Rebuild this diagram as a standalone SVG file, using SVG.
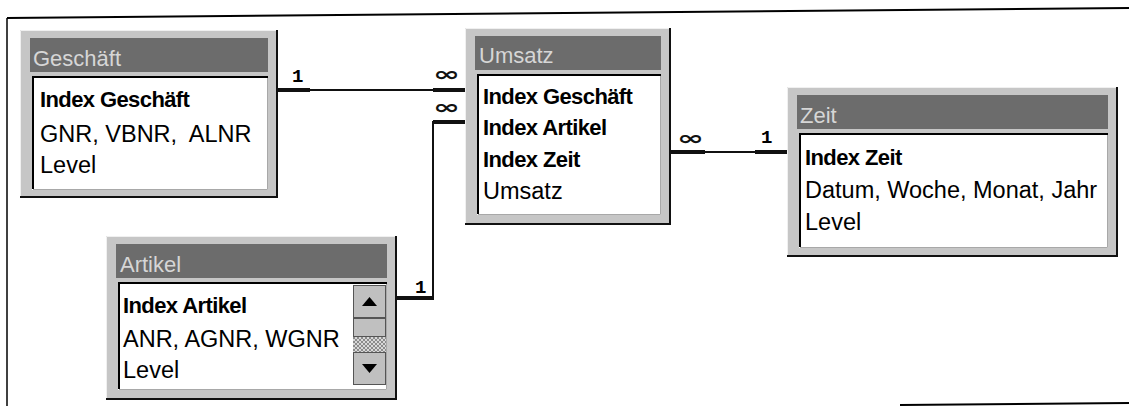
<svg xmlns="http://www.w3.org/2000/svg" width="1129" height="406" viewBox="0 0 1129 406">
<defs>
<style>
.outer{fill:#c6c6c6}
.shd{fill:none;stroke:#111;stroke-width:2}
.hil{fill:none;stroke:#f0f0f0;stroke-width:1}
.title{fill:#6c6c6c}
.body{fill:#fff}
.bdk{fill:none;stroke:#000;stroke-width:2}
.blt{fill:none;stroke:#a8a8a8;stroke-width:1}
.tt{font-family:"Liberation Sans",Arial,sans-serif;font-size:22px;fill:#d6d6d6}
.b{font-family:"Liberation Sans",Arial,sans-serif;font-size:22px;font-weight:bold;fill:#000;letter-spacing:-0.6px}
.r{font-family:"Liberation Sans",Arial,sans-serif;font-size:23.5px;fill:#000}
.thick{stroke:#111;stroke-width:4;fill:none}
.thin{stroke:#111;stroke-width:2;fill:none}
.one{font-family:"Liberation Mono",monospace;font-size:19px;font-weight:bold;fill:#000}
.inf{font-family:"DejaVu Sans",sans-serif;font-size:20px;font-weight:bold;fill:#111}
.frame{stroke:#000;fill:none}
.btn{fill:#c0c0c0;stroke:#555;stroke-width:1}
</style>
<pattern id="hatch" width="4" height="4" patternUnits="userSpaceOnUse">
<rect width="4" height="4" fill="#d8d8d8"/>
<path d="M0 0 L4 4 M4 0 L0 4" stroke="#777" stroke-width="0.8"/>
</pattern>
</defs>

<g id="frame">
<line class="frame" x1="7" y1="18" x2="1129" y2="8" stroke-width="2"/>
<line class="frame" x1="7" y1="18" x2="7" y2="406" stroke-width="1.5"/>
<line class="frame" x1="900" y1="405" x2="1129" y2="403" stroke-width="2"/>
</g>

<g id="connectors">
<line class="thick" x1="278" y1="90" x2="310" y2="90"/>
<line class="thin" x1="310" y1="90" x2="433" y2="90"/>
<line class="thick" x1="433" y1="90" x2="465" y2="90"/>
<line class="thick" x1="433" y1="122" x2="465" y2="122"/>
<line class="thin" x1="433" y1="121" x2="433" y2="298"/>
<line class="thick" x1="397" y1="298" x2="434" y2="298"/>
<line class="thick" x1="671" y1="152" x2="705" y2="152"/>
<line class="thin" x1="705" y1="152" x2="755" y2="152"/>
<line class="thick" x1="755" y1="152" x2="787" y2="152"/>
<text class="one" x="292" y="82">1</text>
<text class="inf" x="433" y="81" textLength="27" lengthAdjust="spacingAndGlyphs">∞</text>
<text class="inf" x="433" y="114" textLength="27" lengthAdjust="spacingAndGlyphs">∞</text>
<text class="inf" x="677" y="145" textLength="27" lengthAdjust="spacingAndGlyphs">∞</text>
<text class="one" x="761" y="143">1</text>
<text class="one" x="415" y="293">1</text>
</g>

<g id="geschaeft">
<rect class="outer" x="20" y="30" width="258" height="168"/>
<path class="hil" d="M20.5 197 V30.5 H277"/>
<path class="shd" d="M20 197 H277 V30"/>
<rect class="title" x="30" y="38" width="238" height="34"/>
<text class="tt" x="33" y="66">Geschäft</text>
<rect class="body" x="32" y="76" width="236" height="114"/>
<path class="blt" d="M33 189.5 H267.5 V77"/>
<path class="bdk" d="M33 189 V77 H268"/>
<text class="b" x="40" y="107">Index Geschäft</text>
<text class="r" x="40" y="142">GNR, VBNR,&#160; ALNR</text>
<text class="r" x="40" y="173">Level</text>
</g>

<g id="umsatz">
<rect class="outer" x="465" y="28" width="206" height="197"/>
<path class="hil" d="M465.5 224 V28.5 H670"/>
<path class="shd" d="M465 224 H670 V28"/>
<rect class="title" x="475" y="36" width="186" height="34"/>
<text class="tt" x="479" y="63">Umsatz</text>
<rect class="body" x="477" y="74" width="184" height="141"/>
<path class="blt" d="M478 214.5 H660.5 V75"/>
<path class="bdk" d="M478 214 V75 H661"/>
<text class="b" x="483" y="104">Index Geschäft</text>
<text class="b" x="483" y="135">Index Artikel</text>
<text class="b" x="483" y="167">Index Zeit</text>
<text class="r" x="483" y="199">Umsatz</text>
</g>

<g id="zeit">
<rect class="outer" x="787" y="87" width="331" height="170"/>
<path class="hil" d="M787.5 256 V87.5 H1117"/>
<path class="shd" d="M787 256 H1117 V87"/>
<rect class="title" x="797" y="95" width="311" height="34"/>
<text class="tt" x="800" y="123">Zeit</text>
<rect class="body" x="799" y="133" width="309" height="115"/>
<path class="blt" d="M800 247.5 H1107.5 V134"/>
<path class="bdk" d="M800 247 V134 H1108"/>
<text class="b" x="805" y="165">Index Zeit</text>
<text class="r" x="805" y="198">Datum, Woche, Monat, Jahr</text>
<text class="r" x="805" y="230">Level</text>
</g>

<g id="artikel">
<rect class="outer" x="106" y="236" width="291" height="164"/>
<path class="hil" d="M106.5 399 V236.5 H396"/>
<path class="shd" d="M106 399 H396 V236"/>
<rect class="title" x="116" y="244" width="271" height="34"/>
<text class="tt" x="120" y="272">Artikel</text>
<rect class="body" x="118" y="282" width="269" height="108"/>
<path class="blt" d="M119 389.5 H386.5 V283"/>
<path class="bdk" d="M119 389 V283 H387"/>
<text class="b" x="123" y="313">Index Artikel</text>
<text class="r" x="123" y="347">ANR, AGNR, WGNR</text>
<text class="r" x="123" y="378">Level</text>
<rect class="btn" x="353.5" y="285.5" width="32" height="32"/>
<polygon points="362,306 377,306 369.5,297" fill="#000"/>
<rect class="btn" x="353.5" y="318.5" width="32" height="18"/>
<rect x="353" y="337" width="33" height="15" fill="url(#hatch)"/>
<rect class="btn" x="353.5" y="352.5" width="32" height="32"/>
<polygon points="362,364 377,364 369.5,373" fill="#000"/>
</g>
</svg>
